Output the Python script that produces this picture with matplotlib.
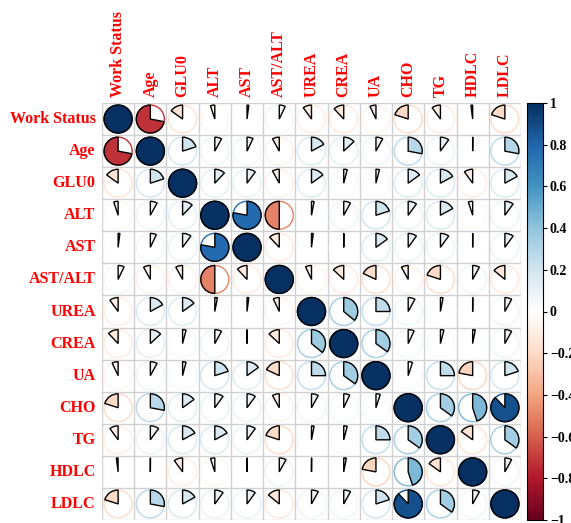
import matplotlib
matplotlib.use("Agg")
import matplotlib.pyplot as plt
import numpy as np
from matplotlib.colors import LinearSegmentedColormap, Normalize
from matplotlib.patches import Wedge, Circle
from matplotlib.colorbar import ColorbarBase

labels = ["Work Status", "Age", "GLU0", "ALT", "AST", "AST/ALT", "UREA",
          "CREA", "UA", "CHO", "TG", "HDLC", "LDLC"]

# correlation matrix (row order = labels)
corr = np.array([
    [ 1.00, -0.72, -0.15, -0.05,  0.02,  0.07, -0.10, -0.12, -0.07, -0.20, -0.10, -0.02, -0.20],
    [-0.72,  1.00,  0.20,  0.08,  0.07, -0.08,  0.17,  0.13,  0.08,  0.28,  0.10,  0.00,  0.28],
    [-0.15,  0.20,  1.00,  0.12,  0.10, -0.08,  0.15,  0.04,  0.04,  0.15,  0.17, -0.10,  0.17],
    [-0.05,  0.08,  0.12,  1.00,  0.78, -0.50,  0.03,  0.08,  0.20,  0.10,  0.17, -0.05,  0.10],
    [ 0.02,  0.07,  0.10,  0.78,  1.00, -0.12,  0.02,  0.00,  0.15,  0.10,  0.10,  0.00,  0.10],
    [ 0.07, -0.08, -0.08, -0.50, -0.12,  1.00, -0.07, -0.13, -0.18, -0.08, -0.20,  0.08, -0.14],
    [-0.10,  0.17,  0.15,  0.03,  0.02, -0.07,  1.00,  0.36,  0.25,  0.08,  0.03,  0.00,  0.08],
    [-0.12,  0.13,  0.04,  0.08,  0.00, -0.13,  0.36,  1.00,  0.35,  0.07,  0.04,  0.03,  0.08],
    [-0.07,  0.08,  0.04,  0.20,  0.15, -0.18,  0.25,  0.35,  1.00,  0.05,  0.25, -0.22,  0.20],
    [-0.20,  0.28,  0.15,  0.10,  0.10, -0.08,  0.08,  0.07,  0.05,  1.00,  0.35,  0.45,  0.88],
    [-0.10,  0.10,  0.17,  0.17,  0.10, -0.20,  0.03,  0.04,  0.25,  0.35,  1.00, -0.15,  0.35],
    [-0.02,  0.00, -0.10, -0.05,  0.00,  0.08,  0.00,  0.03, -0.22,  0.45, -0.15,  1.00,  0.08],
    [-0.20,  0.28,  0.17,  0.10,  0.10, -0.14,  0.08,  0.08,  0.20,  0.88,  0.35,  0.08,  1.00],
])

cbar_ticks = [-1, -0.8, -0.6, -0.4, -0.2, 0, 0.2, 0.4, 0.6, 0.8, 1]

rdbu = LinearSegmentedColormap.from_list("rdbu2", [
    "#67001F", "#B2182B", "#D6604D", "#F4A582", "#FDDBC7", "#FFFFFF",
    "#D1E5F0", "#92C5DE", "#4393C3", "#2166AC", "#053061"])
norm = Normalize(-1, 1)

W, H = 571, 523
fig = plt.figure(figsize=(W / 100, H / 100), dpi=100)
ax = fig.add_axes([102 / W, 3 / H, 419 / W, 417 / H])
n = len(labels)
ax.set_xlim(0, n)
ax.set_ylim(0, n)
ax.set_axis_off()

# cell grid
for k in range(n + 1):
    ax.plot([k, k], [0, n], color="#d0d0d0", lw=1, zorder=1)
    ax.plot([0, n], [k, k], color="#d0d0d0", lw=1, zorder=1)

rad = 0.435
for i in range(n):
    for j in range(n):
        v = corr[i, j]
        c = (j + 0.5, n - i - 0.5)
        col = rdbu(norm(v))
        ax.add_patch(Circle(c, rad, facecolor="none", edgecolor=col, lw=1, zorder=2))
        ang = max(abs(v) * 360, 0.5)
        if v >= 0:
            w = Wedge(c, rad, 90 - ang, 90)
        else:
            w = Wedge(c, rad, 90, 90 + ang)
        w.set_facecolor(col)
        w.set_edgecolor("black")
        w.set_linewidth(1)
        w.set_zorder(3)
        ax.add_patch(w)

lab_font = dict(family="Liberation Serif", weight="bold", size=11.5, color="red")
for j, name in enumerate(labels):
    ax.text(j + 0.5, n + 0.2, name, rotation=90, ha="center", va="bottom", **lab_font)
for i, name in enumerate(labels):
    ax.text(-0.2, n - i - 0.5, name, ha="right", va="center", **lab_font)

cax = fig.add_axes([527 / W, 3 / H, 16 / W, 417 / H])
cb = ColorbarBase(cax, cmap=rdbu, norm=norm, ticks=cbar_ticks)
cb.outline.set_linewidth(0.8)
cax.tick_params(length=3, width=0.8, pad=2, labelsize=10)
cax.set_yticklabels(["\u22121" if t == -1 else ("1" if t == 1 else ("0" if t == 0 else f"{t:g}".replace("-", "\u2212")))
                     for t in cbar_ticks])
for t in cax.get_yticklabels():
    t.set_fontfamily("Liberation Serif")
    t.set_fontweight("bold")

fig.savefig("out.png", dpi=100)
